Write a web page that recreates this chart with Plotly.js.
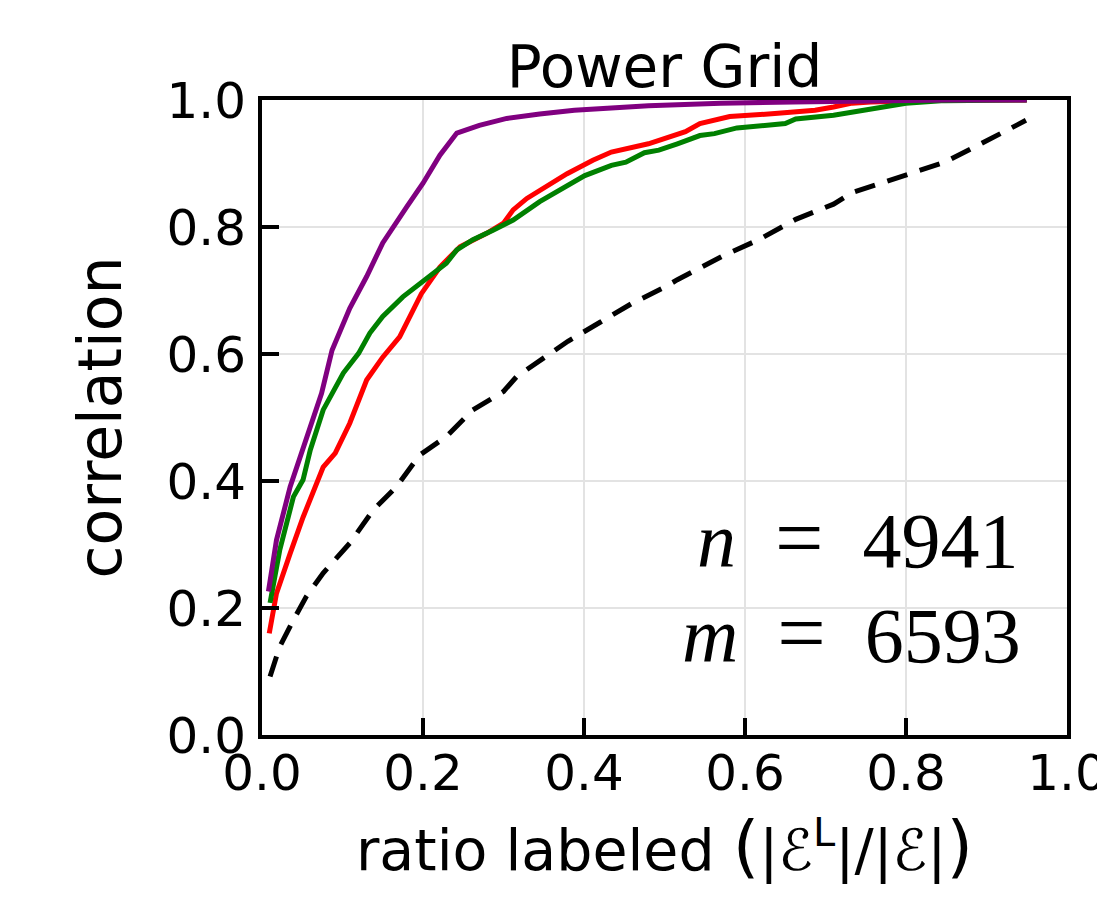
<!DOCTYPE html>
<html>
<head>
<meta charset="utf-8">
<script src="https://cdn.plot.ly/plotly-3.0.1.min.js"></script>
<style>html,body{margin:0;padding:0;background:#fff;}#chart{width:1097px;height:898px;}</style>
</head>
<body>
<div id="chart"></div>
<script>
// ---- data ----
const purpleX = [0.008,0.018,0.035,0.051,0.064,0.074,0.087,0.097,0.109,0.13,0.15,0.18,0.2,0.221,0.242,0.27,0.304,0.345,0.388,0.48,0.57,0.66,0.756,0.85,0.95];
const purpleY = [0.226,0.307,0.391,0.449,0.501,0.538,0.606,0.638,0.672,0.722,0.775,0.832,0.869,0.913,0.948,0.96,0.971,0.978,0.984,0.991,0.995,0.997,0.999,1.0,1.0];

const greenX = [0.01,0.022,0.039,0.051,0.06,0.076,0.101,0.12,0.134,0.15,0.175,0.204,0.229,0.242,0.262,0.287,0.312,0.345,0.374,0.401,0.434,0.452,0.475,0.493,0.516,0.544,0.562,0.59,0.65,0.663,0.71,0.733,0.756,0.80,0.848,0.95];
const greenY = [0.208,0.291,0.375,0.402,0.449,0.512,0.57,0.601,0.633,0.659,0.69,0.719,0.743,0.764,0.78,0.795,0.811,0.84,0.862,0.881,0.897,0.902,0.917,0.921,0.931,0.944,0.947,0.956,0.963,0.97,0.976,0.981,0.987,0.995,0.999,1.0];

const redX = [0.009,0.018,0.035,0.051,0.076,0.091,0.109,0.13,0.15,0.171,0.198,0.221,0.246,0.279,0.30,0.312,0.329,0.345,0.379,0.411,0.434,0.48,0.526,0.544,0.581,0.641,0.687,0.71,0.733,0.756,0.80,0.85,0.95];
const redY = [0.16,0.223,0.286,0.343,0.422,0.444,0.491,0.559,0.595,0.627,0.695,0.737,0.769,0.79,0.806,0.827,0.845,0.858,0.884,0.905,0.918,0.931,0.95,0.963,0.974,0.979,0.984,0.989,0.995,0.997,0.999,1.0,1.0];

const blackX = [0.01,0.022,0.039,0.055,0.076,0.109,0.138,0.167,0.196,0.229,0.262,0.30,0.316,0.341,0.38,0.42,0.46,0.5,0.516,0.572,0.617,0.663,0.71,0.733,0.80,0.848,0.893,0.949];
const blackY = [0.092,0.139,0.181,0.218,0.255,0.302,0.354,0.391,0.441,0.47,0.512,0.541,0.564,0.585,0.62,0.65,0.68,0.705,0.717,0.754,0.78,0.812,0.836,0.854,0.881,0.902,0.931,0.968];

const tickVals = [0, 0.2, 0.4, 0.6, 0.8, 1.0];
const tickText = ["0.0", "0.2", "0.4", "0.6", "0.8", "1.0"];
const titleText = "Power Grid";
const xTitle = "ratio labeled <span style='font-size:68px'>(</span>|ℰ<sup>L</sup>|/|ℰ|<span style='font-size:68px'>)</span>";
const yTitle = "correlation";
const statLines = [
  "<i>n</i>&nbsp; <span style='font-size:86px'>=</span>&nbsp; 4941",
  "<i>m</i>&nbsp; <span style='font-size:86px'>=</span>&nbsp; 6593"
];

// ---- figure ----
const FONT = "DejaVu Sans, sans-serif";
const traces = [
  {x: blackX, y: blackY, mode: "lines", line: {color: "#000000", width: 5, dash: "21px,13px"}},
  {x: redX, y: redY, mode: "lines", line: {color: "#ff0000", width: 5}},
  {x: greenX, y: greenY, mode: "lines", line: {color: "#008000", width: 5}},
  {x: purpleX, y: purpleY, mode: "lines", line: {color: "#800080", width: 5}}
];

const axisCommon = {
  range: [0, 1],
  tickvals: tickVals,
  ticktext: tickText,
  ticks: "inside",
  ticklen: 17,
  tickwidth: 4,
  tickcolor: "#000",
  showline: true,
  linecolor: "#000",
  linewidth: 4,
  mirror: true,
  showgrid: true,
  gridcolor: "#e3e3e3",
  gridwidth: 2,
  zeroline: false,
  ticklabeloverflow: "allow",
  tickfont: {family: FONT, size: 50, color: "#000"}
};

const layout = {
  width: 1097,
  height: 898,
  margin: {l: 262, r: 30, t: 100, b: 163},
  paper_bgcolor: "#fff",
  plot_bgcolor: "#fff",
  showlegend: false,
  title: {text: titleText, font: {family: FONT, size: 58, color: "#000"}, x: 0.5, xref: "paper", y: 1 - 67/898, yref: "container", yanchor: "middle"},
  xaxis: Object.assign({}, axisCommon, {
    ticklabelstandoff: -9,
    title: {text: xTitle, font: {family: FONT, size: 57, color: "#000"}, standoff: 30}
  }),
  yaxis: Object.assign({}, axisCommon, {
    ticklabelstandoff: 2,
    title: {text: yTitle, font: {family: FONT, size: 60, color: "#000"}, standoff: 26}
  }),
  annotations: [
    {xref: "paper", yref: "paper", x: 0.943, y: 0.31, xanchor: "right", yanchor: "middle", showarrow: false, text: statLines[0], font: {family: "Liberation Serif, serif", size: 78, color: "#000"}},
    {xref: "paper", yref: "paper", x: 0.945, y: 0.16, xanchor: "right", yanchor: "middle", showarrow: false, text: statLines[1], font: {family: "Liberation Serif, serif", size: 78, color: "#000"}}
  ]
};

Plotly.newPlot("chart", traces, layout, {displayModeBar: false, staticPlot: true});
</script>
</body>
</html>
